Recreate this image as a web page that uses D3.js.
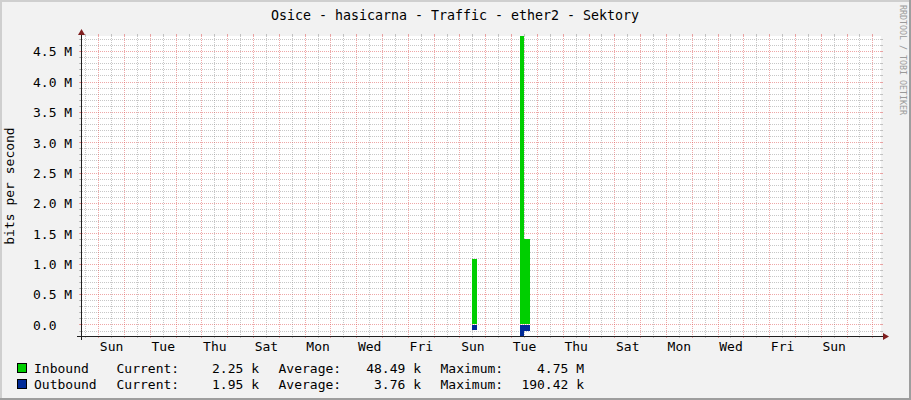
<!DOCTYPE html>
<html><head><meta charset="utf-8">
<script src="https://cdn.jsdelivr.net/npm/d3@7"></script>
<style>
body{margin:0;background:#F2F2F2}
svg{display:block}
text{font-family:"DejaVu Sans Mono",monospace}
</style>
</head><body>
<svg id="chart" width="911" height="400"></svg>
<script>
// ---------------- data ----------------
const chartTitle = "Osice - hasicarna - Traffic - ether2 - Sektory";
const yAxisTitle = "bits per second";
const watermark = "RRDTOOL / TOBI OETIKER";
const timeStart = "2022-12-31T08:00:00";
const timeEnd = "2023-01-31T08:00:00";
// step series (value holds from this time until the next one)
const sampleTimes = [
  "2022-12-31T08:00:00",
  "2023-01-15T12:00:00",
  "2023-01-15T16:00:00",
  "2023-01-17T08:00:00",
  "2023-01-17T12:00:00",
  "2023-01-17T18:00:00",
  "2023-01-31T08:00:00"
];
const inboundBps  = [2250, 1070000, 2250, 4750000, 1400000, 2250, 2250];
const outboundBps = [1950,   90000, 1950,  190420,  100000, 1950, 1950];
const yTickValues = [0, 500000, 1000000, 1500000, 2000000, 2500000, 3000000, 3500000, 4000000, 4500000];
const yTickLabels = ["0.0", "0.5 M", "1.0 M", "1.5 M", "2.0 M", "2.5 M", "3.0 M", "3.5 M", "4.0 M", "4.5 M"];
const legendNames = ["Inbound", "Outbound"];
const legendCurrent = ["2.25 k", "1.95 k"];
const legendAverage = ["48.49 k", "3.76 k"];
const legendMaximum = ["4.75 M", "190.42 k"];

// ---------------- styles ----------------
const COL = {
  back: "#F2F2F2", canvas: "#FFFFFF", shadeA: "#CFCFCF", shadeB: "#9E9E9E",
  grid: "rgba(143,143,143,0.5)", mgrid: "rgba(222,79,79,0.5)",
  arrow: "#801F1F", axis: "#1F1F1F", font: "#000000",
  inbound: "#00CF00", outbound: "#002A97"
};
const X0 = 81, X1 = 881, YB = 336, YT = 36;

const svg = d3.select("#chart");
svg.append("rect").attr("width", 911).attr("height", 400).attr("fill", COL.back);
// 3d border
svg.append("rect").attr("x", 0).attr("y", 0).attr("width", 911).attr("height", 2).attr("fill", COL.shadeA);
svg.append("rect").attr("x", 0).attr("y", 0).attr("width", 2).attr("height", 400).attr("fill", COL.shadeA);
svg.append("rect").attr("x", 0).attr("y", 398).attr("width", 911).attr("height", 2).attr("fill", COL.shadeB);
svg.append("rect").attr("x", 909).attr("y", 0).attr("width", 2).attr("height", 400).attr("fill", COL.shadeB);

// canvas
svg.append("rect").attr("x", X0).attr("y", YT).attr("width", X1 - X0).attr("height", YB - YT).attr("fill", COL.canvas);

// scales
const t0 = new Date(timeStart), t1 = new Date(timeEnd);
const x = d3.scaleTime().domain([t0, t1]).range([X0, X1]);
const y = d3.scaleLinear().domain([-d3.max(outboundBps), d3.max(inboundBps)]).range([YB, YT]);

// grid
const g = svg.append("g").attr("shape-rendering", "crispEdges");
const px = v => Math.round(v) + 0.5;
// horizontal minor
const minorStep = 100000;
const hMinor = d3.range(Math.ceil(y.domain()[0] / minorStep), Math.floor(y.domain()[1] / minorStep) + 1)
  .map(k => k * minorStep).filter(v => v % 500000 !== 0);
function hLine(v, col) {
  const yy = px(y(v));
  g.append("line").attr("x1", X0 - 2).attr("x2", X0).attr("y1", yy).attr("y2", yy).attr("stroke", col);
  g.append("line").attr("x1", X1).attr("x2", X1 + 2).attr("y1", yy).attr("y2", yy).attr("stroke", col);
  g.append("line").attr("x1", X0 - 1).attr("x2", X1 + 1).attr("y1", yy).attr("y2", yy)
    .attr("stroke", col).attr("stroke-dasharray", "1,1");
}
function vLine(d, col) {
  const xx = px(x(d));
  g.append("line").attr("x1", xx).attr("x2", xx).attr("y1", YB).attr("y2", YB + 2).attr("stroke", col);
  g.append("line").attr("x1", xx).attr("x2", xx).attr("y1", YT - 2).attr("y2", YT).attr("stroke", col);
  g.append("line").attr("x1", xx).attr("x2", xx).attr("y1", YB + 1).attr("y2", YT - 1)
    .attr("stroke", col).attr("stroke-dasharray", "1,1");
}
hMinor.forEach(v => hLine(v, COL.grid));
d3.timeHour.every(12).range(t0, t1).filter(d => d.getHours() !== 0).forEach(d => vLine(d, COL.grid));
yTickValues.forEach(v => hLine(v, COL.mgrid));
d3.timeDay.range(d3.timeDay.ceil(t0), t1).forEach(d => vLine(d, COL.mgrid));

// data (pixel-snapped like rrdtool)
const data = sampleTimes.map((s, i) => ({ t: new Date(s), inb: inboundBps[i], out: outboundBps[i] }));
const R = Math.round;
svg.append("path").datum(data).attr("fill", COL.inbound).attr("shape-rendering", "crispEdges")
  .attr("d", d3.area().curve(d3.curveStepAfter).x(d => R(x(d.t))).y0(R(y(0))).y1(d => R(y(d.inb))));
svg.append("path").datum(data).attr("fill", COL.outbound).attr("shape-rendering", "crispEdges")
  .attr("d", d3.area().curve(d3.curveStepAfter).x(d => R(x(d.t))).y0(R(y(0)) + 1).y1(d => Math.max(R(y(-d.out)), R(y(0)) + 1)));

// axes lines + arrows
svg.append("line").attr("x1", X0 - 4).attr("x2", X1 + 4).attr("y1", YB + 0.5).attr("y2", YB + 0.5)
  .attr("stroke", COL.axis).attr("stroke-width", 1).attr("shape-rendering", "crispEdges");
svg.append("line").attr("x1", X0 + 0.5).attr("x2", X0 + 0.5).attr("y1", YB + 4).attr("y2", YT - 4)
  .attr("stroke", COL.axis).attr("stroke-width", 1).attr("shape-rendering", "crispEdges");
svg.append("path").attr("fill", COL.arrow)
  .attr("d", `M${X1 + 2},${YB - 3}L${X1 + 2},${YB + 4}L${X1 + 8},${YB + 0.5}Z`);
svg.append("path").attr("fill", COL.arrow)
  .attr("d", `M${X0 - 3},${YT - 1}L${X0 + 4},${YT - 1}L${X0 + 0.5},${YT - 7}Z`);

// x axis labels (every second day, centered at noon)
const labelDates = d3.timeDay.range(d3.timeDay.ceil(t0), t1)
  .filter((d, i) => i % 2 === 0).map(d => d3.timeHour.offset(d, 12)).filter(d => d < t1);
const xAxis = svg.append("g").attr("transform", `translate(0,${YB})`)
  .call(d3.axisBottom(x).tickValues(labelDates).tickFormat(d3.timeFormat("%a")).tickSize(0));
xAxis.select(".domain").remove();
xAxis.selectAll("text").attr("y", 15).attr("dy", 0).attr("fill", COL.font)
  .style("font-family", "DejaVu Sans Mono").style("font-size", "13px");

// y axis labels
const yAxis = svg.append("g").attr("transform", `translate(${X0},0)`)
  .call(d3.axisLeft(y).tickValues(yTickValues).tickFormat((d, i) => yTickLabels[i]).tickSize(0));
yAxis.select(".domain").remove();
yAxis.selectAll("text").attr("x", 33 - X0).attr("dy", "0.37em").attr("text-anchor", "start")
  .attr("fill", COL.font).style("font-family", "DejaVu Sans Mono").style("font-size", "13px");

// titles
svg.append("text").attr("x", 455).attr("y", 19.5).attr("text-anchor", "middle")
  .attr("fill", COL.font).style("font-size", "13.3px").text(chartTitle);
svg.append("text").attr("transform", `translate(14,${(YT + YB) / 2}) rotate(-90)`)
  .attr("text-anchor", "middle").attr("fill", COL.font).style("font-size", "13px").text(yAxisTitle);
svg.append("text").attr("transform", "translate(900,5) rotate(90)")
  .attr("fill", "#9A9A9A").style("font-size", "8.3px").text(watermark);

// legend
const legendColors = [COL.inbound, COL.outbound];
const rowY = [373, 389];
legendNames.forEach((name, i) => {
  const yy = rowY[i];
  svg.append("rect").attr("x", 17.5).attr("y", yy - 9.5).attr("width", 9).attr("height", 9)
    .attr("fill", legendColors[i]).attr("stroke", "#000").attr("stroke-width", 1);
  const txt = (xx, s, anchor) => svg.append("text").attr("x", xx).attr("y", yy)
    .attr("text-anchor", anchor).attr("fill", COL.font).style("font-size", "13px").text(s);
  txt(34, name, "start");
  txt(116.5, "Current:", "start");
  txt(259, legendCurrent[i], "end");
  txt(278.5, "Average:", "start");
  txt(421, legendAverage[i], "end");
  txt(440.5, "Maximum:", "start");
  txt(584, legendMaximum[i], "end");
});
</script>
</body></html>
